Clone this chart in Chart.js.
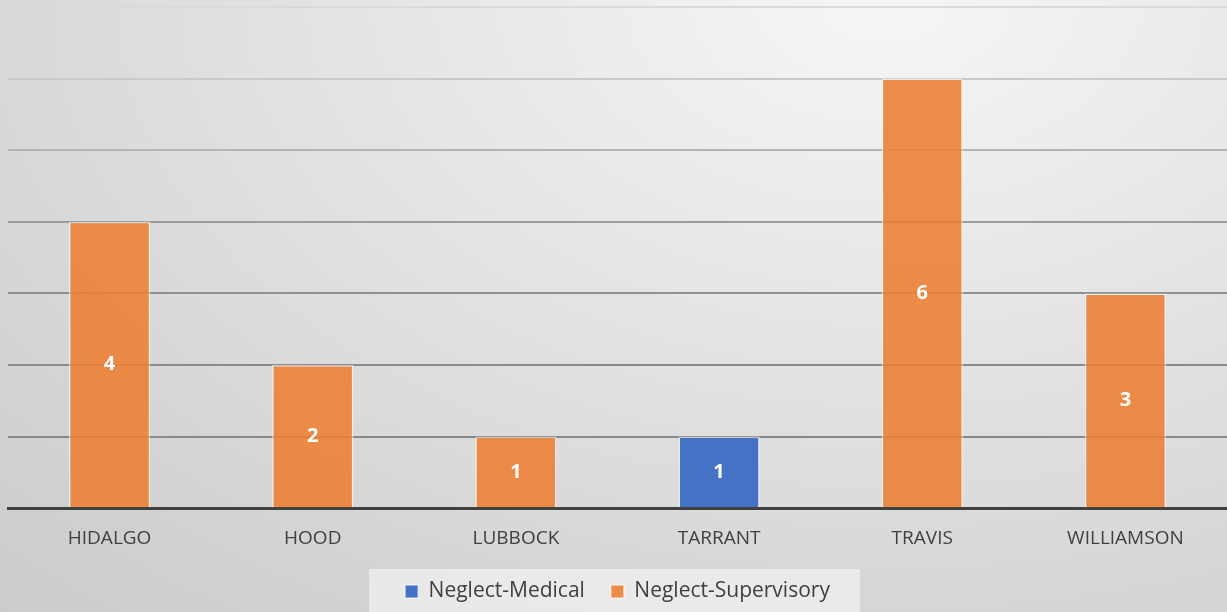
<!DOCTYPE html>
<html>
<head>
<meta charset="utf-8">
<script src="https://cdn.jsdelivr.net/npm/chart.js@4"></script>
<style>
  html, body { margin: 0; padding: 0; }
  #wrap {
    width: 1227px; height: 612px;
    background: radial-gradient(ellipse 110% 140% at 72% 0%, #f6f6f6 0%, #e4e4e4 40%, #d2d2d2 80%, #cacaca 100%);
  }
</style>
</head>
<body>
<div id="wrap"><canvas id="chart" width="1227" height="612"></canvas></div>
<script>
const counties = ["HIDALGO", "HOOD", "LUBBOCK", "TARRANT", "TRAVIS", "WILLIAMSON"];
const neglectMedical = [0, 0, 0, 1, 0, 0];
const neglectSupervisory = [4, 2, 1, 0, 6, 3];

const gridShades = ["#888888", "#8a8a8a", "#909090", "#9c9c9c", "#b4b4b4", "#cacaca", "#dadada"];

// value labels in the middle of each bar segment
const barLabels = {
  id: "barLabels",
  afterDatasetsDraw: (chart) => {
    const { ctx } = chart;
    ctx.save();
    ctx.fillStyle = "#ffffff";
    ctx.font = "bold 20px 'Open Sans', sans-serif";
    ctx.textAlign = "center";
    ctx.textBaseline = "middle";
    chart.data.datasets.forEach((ds, i) => {
      chart.getDatasetMeta(i).data.forEach((el, j) => {
        const v = ds.data[j];
        if (!v) return;
        ctx.fillText(v, el.x, (el.y + el.base) / 2);
      });
    });
    ctx.restore();
  },
};

// lighter panel behind the legend
const legendPanel = {
  id: "legendPanel",
  beforeDraw: (chart) => {
    const lg = chart.legend;
    if (!lg || !lg.legendHitBoxes.length) return;
    const boxes = lg.legendHitBoxes;
    const left = Math.min(...boxes.map((b) => b.left)) - 36;
    const right = Math.max(...boxes.map((b) => b.left + b.width)) + 30;
    const { ctx } = chart;
    ctx.save();
    ctx.fillStyle = "rgba(240,240,240,0.75)";
    ctx.fillRect(left, 569, right - left, chart.height - 569);
    ctx.restore();
  },
};

new Chart(document.getElementById("chart"), {
  type: "bar",
  data: {
    labels: counties,
    datasets: [
      {
        label: "Neglect-Medical",
        data: neglectMedical,
        backgroundColor: "#4472c4",
        borderColor: "rgba(255,255,255,0.55)",
        borderWidth: 1.5,
      },
      {
        label: "Neglect-Supervisory",
        data: neglectSupervisory,
        backgroundColor: "rgba(237,125,49,0.88)",
        borderColor: "rgba(255,255,255,0.55)",
        borderWidth: 1.5,
      },
    ],
  },
  options: {
    responsive: false,
    animation: false,
    layout: { padding: { left: 8, top: 7, right: 0, bottom: 0 } },
    datasets: {
      bar: { categoryPercentage: 1.0, barPercentage: 0.4 },
    },
    scales: {
      x: {
        stacked: true,
        grid: { display: false, drawTicks: false },
        border: { display: true, color: "#404040", width: 3 },
        ticks: {
          color: "#404040",
          padding: 19,
          font: { family: "'Open Sans', sans-serif", size: 19 },
        },
        // let the axis sit closer to the legend
        afterFit: (scale) => { scale.height -= 14; },
      },
      y: {
        stacked: true,
        min: 0,
        max: 7,
        ticks: { stepSize: 1, display: false },
        border: { display: false },
        grid: {
          drawTicks: false,
          lineWidth: 2,
          color: (c) => gridShades[Math.max(0, (c.tick ? c.tick.value : 1) - 1)],
        },
      },
    },
    plugins: {
      legend: {
        position: "bottom",
        labels: {
          boxWidth: 13,
          boxHeight: 13,
          padding: 26,
          color: "#404040",
          font: { family: "'Open Sans', sans-serif", size: 21 },
        },
      },
      tooltip: { enabled: false },
    },
  },
  plugins: [barLabels, legendPanel],
});
</script>
</body>
</html>
